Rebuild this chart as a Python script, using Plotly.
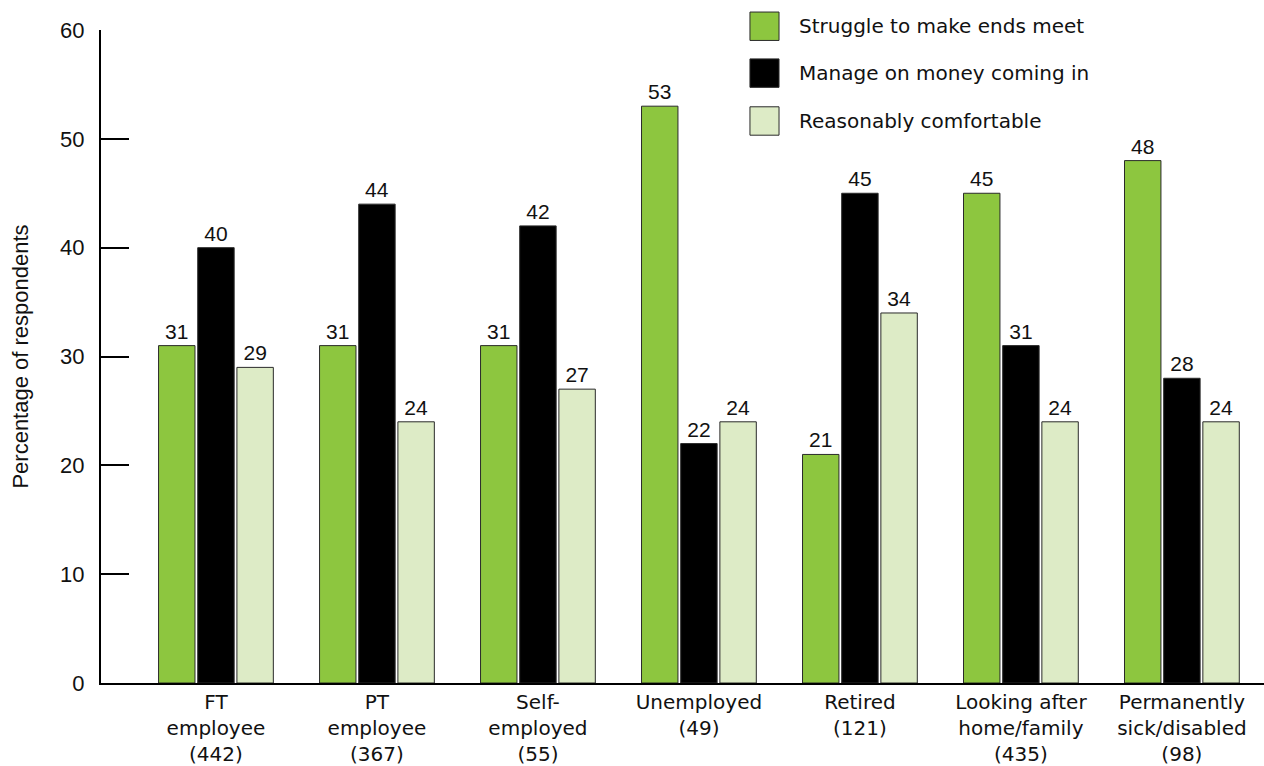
import plotly.graph_objects as go

categories = [
    "FT<br>employee<br>(442)",
    "PT<br>employee<br>(367)",
    "Self-<br>employed<br>(55)",
    "Unemployed<br>(49)",
    "Retired<br>(121)",
    "Looking after<br>home/family<br>(435)",
    "Permanently<br>sick/disabled<br>(98)",
]
series_names = [
    "Struggle to make ends meet",
    "Manage on money coming in",
    "Reasonably comfortable",
]
struggle = [31, 31, 31, 53, 21, 45, 48]
manage = [40, 44, 42, 22, 45, 31, 28]
comfortable = [29, 24, 27, 24, 34, 24, 24]
y_ticks = [0, 10, 20, 30, 40, 50, 60]

colors = ["#8DC63F", "#000000", "#DDEBC6"]
num_font = "Liberation Sans, Arial, sans-serif"
text_font = "DejaVu Sans, Verdana, sans-serif"
ink = "#111111"

fig = go.Figure()
for name, vals, col in zip(series_names, [struggle, manage, comfortable], colors):
    fig.add_trace(go.Bar(
        x=categories,
        y=vals,
        name=name,
        marker=dict(color=col, line=dict(color="#2a2a2a", width=1)),
        text=[str(v) for v in vals],
        textposition="outside",
        textfont=dict(size=21, color=ink, family=num_font),
        cliponaxis=False,
        showlegend=False,
    ))

# Legend drawn as swatches + labels in paper coordinates
sw_x0, sw_x1 = 0.558, 0.583
sw_top = [1.0275, 0.9557, 0.8824]
sw_h = 0.0435
for i, (name, col) in enumerate(zip(series_names, colors)):
    fig.add_shape(
        type="rect", xref="paper", yref="paper",
        x0=sw_x0, x1=sw_x1, y0=sw_top[i] - sw_h, y1=sw_top[i],
        fillcolor=col, line=dict(color="#2a2a2a", width=1),
    )
    fig.add_annotation(
        xref="paper", yref="paper", x=0.5985, y=sw_top[i] - sw_h / 2,
        text=name, showarrow=False, xanchor="left", yanchor="middle",
        font=dict(size=20, color=ink, family=text_font),
    )

fig.update_layout(
    width=1264, height=766,
    margin=dict(l=101, r=0, t=30, b=81),
    plot_bgcolor="white", paper_bgcolor="white",
    barmode="group", bargap=0.27, bargroupgap=0.07,
    font=dict(family=num_font, color=ink),
    xaxis=dict(
        type="category",
        range=[-0.714, 6.51],
        showline=True, linecolor="black", linewidth=2,
        ticks="", showgrid=False,
        tickfont=dict(size=20, color=ink, family=text_font),
    ),
    yaxis=dict(
        range=[0, 60],
        tickvals=y_ticks,
        showline=True, linecolor="black", linewidth=2,
        ticks="inside", ticklen=28, tickwidth=2, tickcolor="black",
        showgrid=False, zeroline=False,
        tickfont=dict(size=22, color=ink, family=num_font),
        ticklabelstandoff=10,
        title=dict(text="Percentage of respondents", standoff=25,
                   font=dict(size=22, color=ink, family=num_font)),
    ),
)

fig.write_html("out.html")
